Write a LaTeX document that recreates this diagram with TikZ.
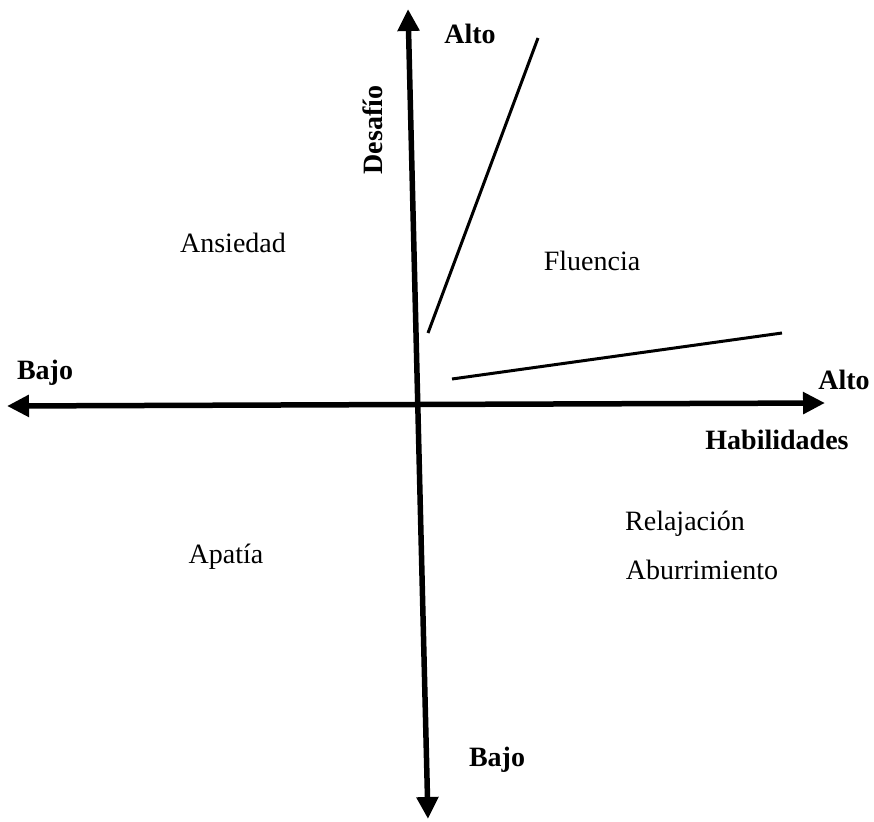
\documentclass[tikz,border=0pt]{standalone}
\usepackage{fontspec}
\setmainfont{Liberation Serif}
\usetikzlibrary{arrows.meta}
\tikzset{
  axis/.style={line width=5.5pt, {Triangle[length=22pt,width=21pt]}-{Triangle[length=22pt,width=21pt]}},
  bound/.style={line width=3pt},
  lbl/.style={anchor=base, inner sep=0pt, font=\fontsize{28}{32}\selectfont},
  blbl/.style={lbl, font=\fontsize{28}{32}\selectfont\bfseries},
}
\begin{document}
\begin{tikzpicture}[x=1pt,y=-1pt]
\useasboundingbox[fill=white] (0,0) rectangle (874,821);
\coordinate (vtop) at (408,9);
\coordinate (vbot) at (428,819);
\coordinate (hleft) at (7,406);
\coordinate (hright) at (825,403);
\coordinate (f1a) at (428,333);
\coordinate (f1b) at (538,38);
\coordinate (f2a) at (452,379);
\coordinate (f2b) at (782,333);
\draw[axis] (vbot) -- (vtop);
\draw[axis] (hleft) -- (hright);
\draw[bound] (f1a) -- (f1b);
\draw[bound] (f2a) -- (f2b);
\node[blbl] (altoy) at (470,44) {Alto};
\node[blbl] (bajoy) at (497,766) {Bajo};
\node[blbl] (bajox) at (45,379) {Bajo};
\node[blbl] (altox) at (844,389) {Alto};
\node[blbl] (habil) at (777,449) {Habilidades};
\node[blbl, rotate=90] (desaf) at (382,130) {Desafío};
\node[lbl] (ansied) at (233,252) {Ansiedad};
\node[lbl] (fluen) at (592,270) {Fluencia};
\node[lbl] (relaj) at (685,530) {Relajación};
\node[lbl] (aburr) at (702,579) {Aburrimiento};
\node[lbl] (apat) at (226,563) {Apatía};
\end{tikzpicture}
\end{document}
